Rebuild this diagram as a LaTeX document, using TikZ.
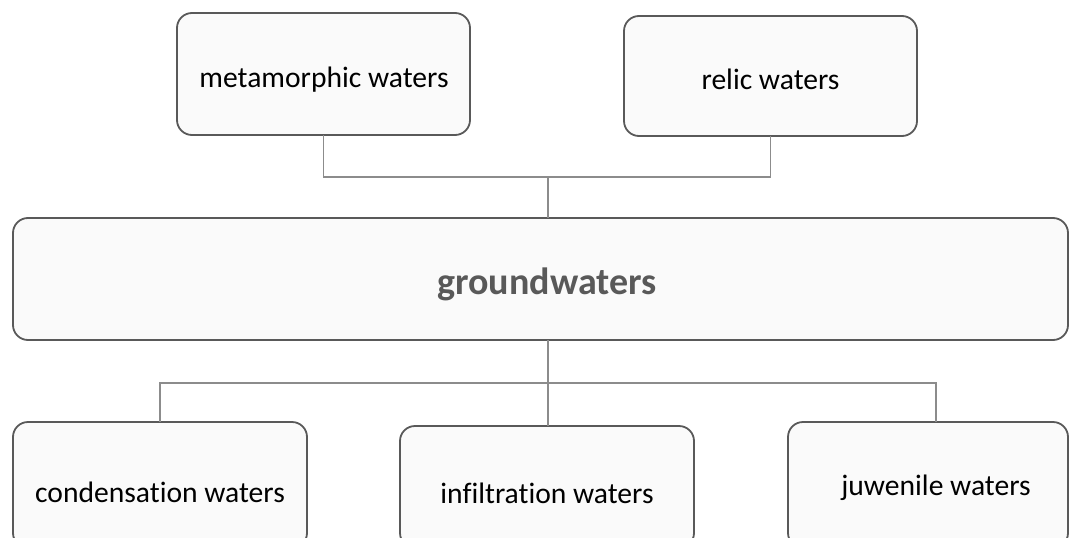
\documentclass[tikz,border=0pt]{standalone}
\usepackage{fontspec}
\setmainfont[RawFeature={-liga}]{Carlito}
\definecolor{boxline}{HTML}{595959}
\definecolor{boxfill}{HTML}{FAFAFA}
\definecolor{connline}{HTML}{8C8C8C}
\definecolor{gwtext}{HTML}{595959}
\tikzset{
  wbox/.style={draw=boxline, fill=boxfill, line width=1.8pt, rounded corners=15pt,
    rectangle, inner sep=0pt, outer sep=0pt},
  wtxt/.style={anchor=base, inner sep=0pt, font=\fontsize{29.6}{33}\selectfont, text=black},
  gwtxt/.style={anchor=base, inner sep=0pt, font=\fontsize{38}{42}\selectfont\bfseries, text=gwtext},
  conn/.style={draw=connline, line width=1.2pt}
}
\begin{document}
\begin{tikzpicture}[x=1pt,y=-1pt]
\useasboundingbox (0,0) rectangle (1071,538);
\clip (0,0) rectangle (1071,538);
\fill[white] (0,0) rectangle (1071,538);
% boxes
\node[wbox, minimum width=293pt, minimum height=122pt] (meta) at (323.5,74) {};
\node[wbox, minimum width=293pt, minimum height=120pt] (relic) at (770.5,76) {};
\node[wbox, minimum width=1055pt, minimum height=122pt] (gw) at (540.5,279) {};
\node[wbox, minimum width=294pt, minimum height=126pt] (cond) at (160,485) {};
\node[wbox, minimum width=294pt, minimum height=122pt] (infl) at (547,487) {};
\node[wbox, minimum width=280pt, minimum height=126pt] (juw) at (928,485) {};
% texts
\node[wtxt] (metat) at (324,87) {metamorphic waters};
\node[wtxt] (relict) at (770.5,89) {relic waters};
\node[gwtxt] (gwt) at (547,294) {groundwaters};
\node[wtxt] (condt) at (160,502) {condensation waters};
\node[wtxt] (inflt) at (547,503) {infiltration waters};
\node[wtxt] (juwt) at (936,495) {juwenile waters};
% connectors
\coordinate (jt) at (548,177);
\coordinate (jb) at (548,383);
\coordinate (juwtop) at (936,422);
\draw[conn] (meta.south) |- (jt) -| (relic.south);
\draw[conn] (jt) -- (jt |- gw.north);
\draw[conn] (jb |- gw.south) -- (jb |- infl.north);
\draw[conn] (cond.north) |- (jb) -| (juwtop);
\end{tikzpicture}
\end{document}
